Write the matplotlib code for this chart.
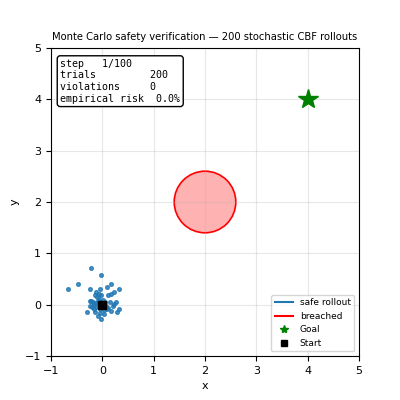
import matplotlib.pyplot as plt
from matplotlib.patches import Circle
from matplotlib.lines import Line2D

# rollout positions after step 1
px = [-0.22, -0.03, -0.47, -0.67, 0.16, 0.10, 0.33, -0.24, -0.05, 0.23,
      0.17, 0.11, -0.12, -0.07, -0.15, -0.03, -0.10, -0.23, -0.19, -0.25,
      -0.09, 0.06, 0.14, 0.27, -0.12, 0.23, -0.25, 0.12, -0.13, -0.17,
      -0.05, 0.03, 0.09, 0.16, 0.33, 0.28, -0.29, -0.14, -0.05, 0.03,
      -0.09, -0.02, 0.02, -0.06, 0.07, -0.16, 0.05, -0.02, 0.20, -0.20]
py = [0.71, 0.57, 0.40, 0.31, 0.40, 0.34, 0.31, 0.31, 0.30, 0.24,
      0.21, 0.19, 0.25, 0.21, 0.18, 0.18, 0.14, 0.08, 0.06, 0.07,
      0.08, 0.06, 0.06, 0.06, 0.03, 0.01, -0.02, -0.07, -0.04, -0.09,
      -0.08, -0.10, -0.09, -0.12, -0.09, -0.15, -0.15, -0.15, -0.16, -0.19,
      -0.23, -0.27, 0.10, 0.12, -0.03, 0.02, -0.05, 0.05, -0.02, -0.05]

obstacle = (2.0, 2.0)
obstacle_r = 0.6
goal = (4.0, 4.0)
start = (0.0, 0.0)

step, n_steps = 1, 100
trials = 200
violations = 0
risk = violations / trials * 100

fig, ax = plt.subplots(figsize=(4, 4), dpi=100)

ax.add_patch(Circle(obstacle, obstacle_r, facecolor='red', alpha=0.3, edgecolor='none'))
ax.add_patch(Circle(obstacle, obstacle_r, facecolor='none', edgecolor='red', lw=1.2))

ax.scatter(px, py, s=7, color='C0', alpha=0.8, zorder=3)
ax.plot(*goal, marker='*', color='green', markersize=15, linestyle='none', zorder=4)
ax.plot(*start, marker='s', color='black', markersize=6, linestyle='none', zorder=5)

ax.set_xlim(-1, 5)
ax.set_ylim(-1, 5)
ax.set_aspect('equal')
ax.grid(True, alpha=0.3)
ax.tick_params(labelsize=8)
ax.set_xlabel('x', fontsize=8)
ax.set_ylabel('y', fontsize=8)
ax.set_title('Monte Carlo safety verification \u2014 200 stochastic CBF rollouts', fontsize=7.2)

info = (f"step   {step}/{n_steps}\n"
        f"trials         {trials}\n"
        f"violations     {violations}\n"
        f"empirical risk  {risk:.1f}%")
ax.text(0.03, 0.965, info, transform=ax.transAxes, family='monospace', fontsize=7.2,
        va='top', ha='left',
        bbox=dict(boxstyle='round,pad=0.3', facecolor='white', edgecolor='black'))

handles = [Line2D([], [], color='C0', lw=1.5, label='safe rollout'),
           Line2D([], [], color='red', lw=1.5, label='breached'),
           Line2D([], [], color='green', marker='*', linestyle='none', markersize=6, label='Goal'),
           Line2D([], [], color='black', marker='s', linestyle='none', markersize=5, label='Start')]
ax.legend(handles=handles, loc='lower right', fontsize=6.5)

fig.savefig('out.png', dpi=100)
